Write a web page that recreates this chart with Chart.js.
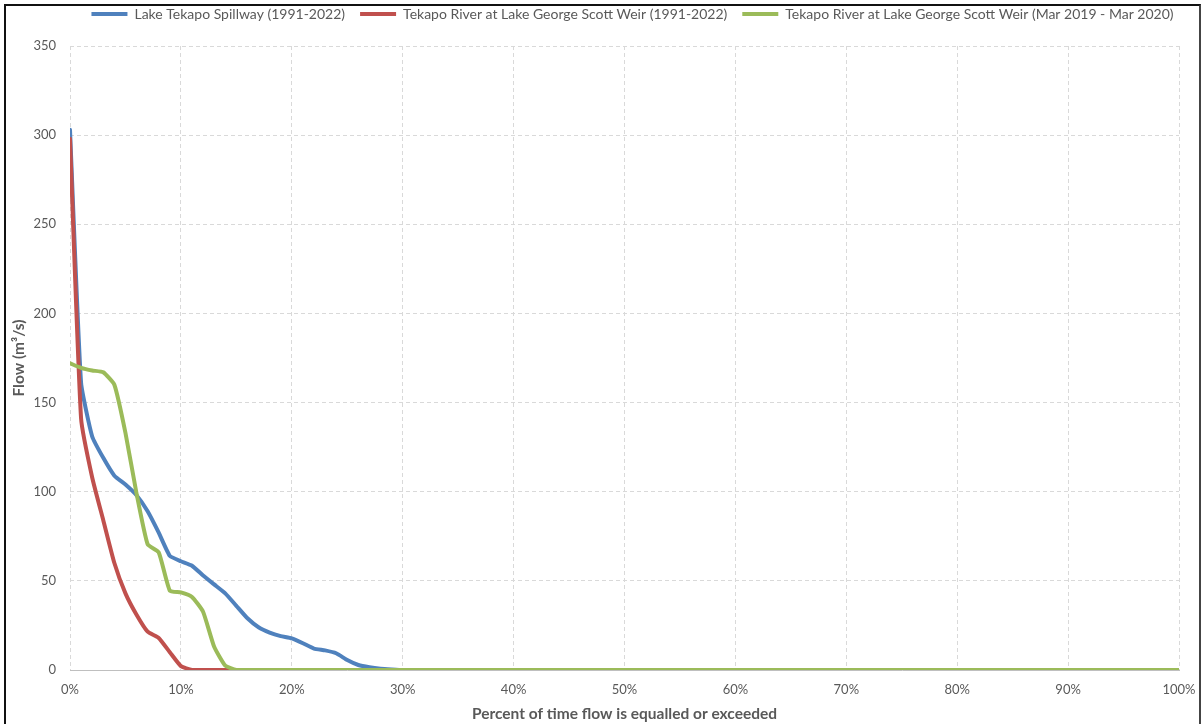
<!DOCTYPE html>
<html>
<head>
<meta charset="utf-8">
<script src="https://cdn.jsdelivr.net/npm/chart.js@4"></script>
<style>
  html, body { margin: 0; padding: 0; background: #fff; }
  #wrap { position: relative; width: 1202px; height: 724px; overflow: hidden; }
  #frame { position: absolute; left: 4px; top: 4px; width: 1193px; height: 800px;
           border-left: 2px solid #111; border-top: 2px solid #111; border-right: 2px solid #444; pointer-events: none; }
  canvas { position: absolute; left: 0; top: 0; }
</style>
</head>
<body>
<div id="wrap">
  <canvas id="c" width="1202" height="724"></canvas>
  <div id="frame"></div>
</div>
<script>
// Percent of time flow is equalled or exceeded (x values)
const pct = [0,1,2,3,4,5,6,7,8,9,10,11,12,13,14,15,16,17,18,19,20,21,22,23,24,25,26,27,28,29,30,100];
// Lake Tekapo Spillway (1991-2022)
const spillway = [303,161,131,119,109,104,98,89,77,64,61,58.5,53,48,43,36,29,24,21,19,17.7,15,12,11,9.4,5.6,2.8,1.5,0.7,0.3,0,0];
// Tekapo River at Lake George Scott Weir (1991-2022)
const weirLong = [298,141,108,84,60,43,31,21.5,18,10,2.2,0,0,0,0,0,0,0,0,0,0,0,0,0,0,0,0,0,0,0,0,0];
// Tekapo River at Lake George Scott Weir (Mar 2019 - Mar 2020)
const weir1920 = [172,169.5,168,167,160,133,99,70.5,66,44.5,43.5,41,32.7,13,2.4,0,0,0,0,0,0,0,0,0,0,0,0,0,0,0,0,0];

const seriesNames = [
  'Lake Tekapo Spillway (1991-2022)',
  'Tekapo River at Lake George Scott Weir (1991-2022)',
  'Tekapo River at Lake George Scott Weir (Mar 2019 - Mar 2020)'
];
const yTicks = [0,50,100,150,200,250,300,350];
const xTitle = 'Percent of time flow is equalled or exceeded';
const yTitle = 'Flow (m\u00B3/s)';

const FONT = 'Lato, "Open Sans", sans-serif';
const toPts = arr => pct.map((x, i) => ({ x: x, y: arr[i] }));

function ds(label, data, color, order) {
  return {
    label, data: toPts(data), borderColor: color, backgroundColor: color,
    borderWidth: 4, pointRadius: 0, pointHoverRadius: 0, pointStyle: 'line',
    borderCapStyle: 'round', borderJoinStyle: 'round',
    tension: 0.15, order
  };
}

const PAD_TOP = -8;
const LEGEND_SHIFT = 39;
const legendFix = {
  id: 'legendFix',
  afterInit(chart) {
    const lg = chart.legend;
    if (!lg) return;
    const orig = lg.fit;
    lg.fit = function () { orig.call(this); this.height = 46 - PAD_TOP; };
  },
  afterLayout(chart) {
    const lg = chart.legend;
    if (!lg) return;
    lg.left += LEGEND_SHIFT;
    lg.right += LEGEND_SHIFT;
  }
};

new Chart(document.getElementById('c'), {
  type: 'line',
  data: {
    datasets: [
      ds(seriesNames[0], spillway, '#4F81BD', 2),
      ds(seriesNames[1], weirLong, '#C0504D', 1),
      ds(seriesNames[2], weir1920, '#9BBB59', 0)
    ]
  },
  plugins: [legendFix],
  options: {
    responsive: false,
    animation: false,
    layout: { padding: { left: 8, right: 23, top: PAD_TOP, bottom: 0 } },
    plugins: {
      tooltip: { enabled: false },
      legend: {
        position: 'top',
        labels: {
          usePointStyle: true,
          pointStyleWidth: 36,
          boxHeight: 4,
          padding: 15,
          color: '#595959',
          font: { family: FONT, size: 14 },
          sort: (a, b) => a.datasetIndex - b.datasetIndex
        }
      }
    },
    scales: {
      x: {
        type: 'linear', min: 0, max: 100,
        afterFit: s => { s.height = 54; s.paddingLeft = 0; s.paddingRight = 0; },
        ticks: { stepSize: 10, callback: v => v + '%', color: '#595959', padding: 12,
                 font: { family: FONT, size: 13 }, maxRotation: 0 },
        grid: { color: '#d9d9d9', drawTicks: false, lineWidth: 1 },
        border: { display: true, color: '#bfbfbf', width: 1, dash: [4,3] },
        title: { display: true, text: xTitle, color: '#595959', font: { family: FONT, size: 15.5, weight: 'bold' }, padding: { top: 0, bottom: 1 } }
      },
      y: {
        min: 0, max: 350,
        afterFit: s => { s.width = 62; },
        afterBuildTicks: s => { s.ticks = yTicks.map(v => ({ value: v })); },
        ticks: { color: '#595959', padding: 14, font: { family: FONT, size: 13 } },
        grid: { color: ctx => (ctx.tick && ctx.tick.value === 0) ? 'rgba(0,0,0,0)' : '#d9d9d9', drawTicks: false, lineWidth: 1 },
        border: { display: false, dash: [4,3] },
        title: { display: true, text: yTitle, color: '#595959', font: { family: FONT, size: 15.5, weight: 'bold' }, padding: { top: 2, bottom: 2 } }
      }
    }
  }
});
</script>
</body>
</html>
